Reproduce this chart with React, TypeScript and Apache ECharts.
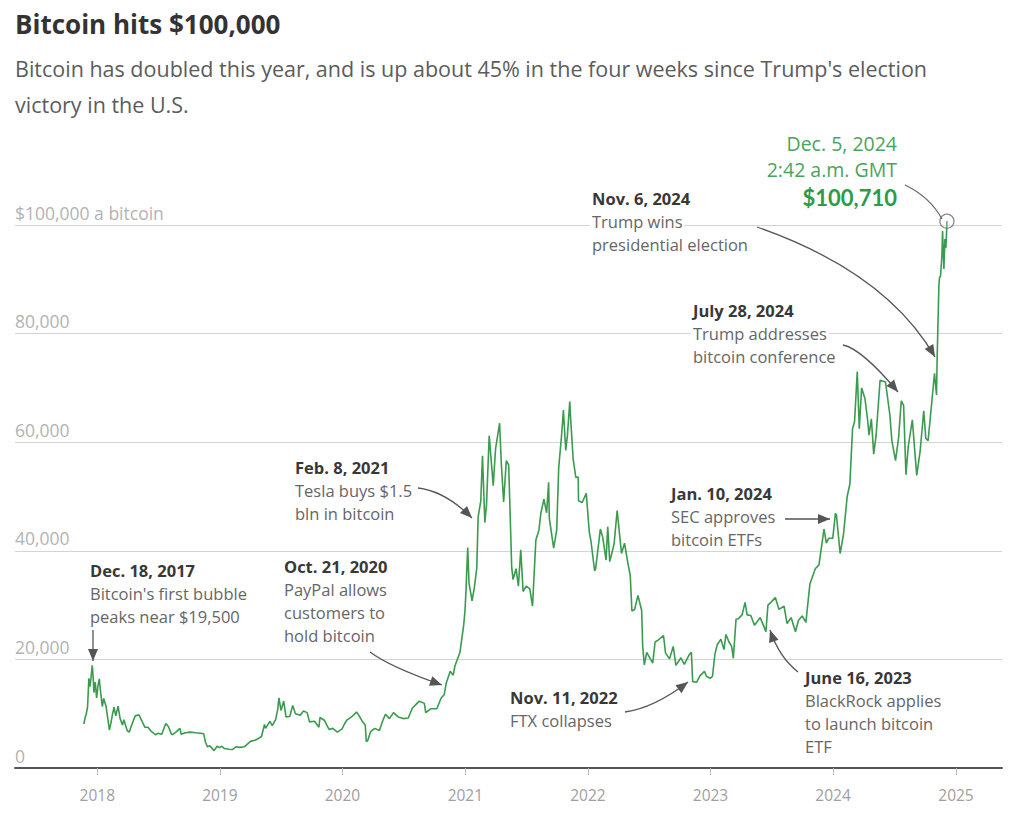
import React, { useEffect, useRef } from 'react';
import * as echarts from 'echarts';

// ---------- DATA (bitcoin price, USD) ----------
const price2017: [string, number][] = [
  ['2017-11-22', 8100], ['2017-11-26', 9300], ['2017-11-29', 9900], ['2017-12-03', 11200],
  ['2017-12-07', 16500], ['2017-12-10', 15000], ['2017-12-13', 16400], ['2017-12-17', 18900],
  ['2017-12-20', 16500], ['2017-12-22', 13900], ['2017-12-26', 15800], ['2017-12-30', 12900],
];
const price2018: [string, number][] = [
  ['2018-01-03', 15100], ['2018-01-07', 16400], ['2018-01-10', 14500], ['2018-01-16', 11300],
  ['2018-01-20', 12800], ['2018-01-27', 11400], ['2018-02-02', 8800], ['2018-02-06', 7000],
  ['2018-02-10', 8100], ['2018-02-16', 10100], ['2018-02-20', 11200], ['2018-02-25', 9600],
  ['2018-03-04', 11400], ['2018-03-10', 9100], ['2018-03-17', 7900], ['2018-03-21', 8900],
  ['2018-03-31', 6900], ['2018-04-06', 6600], ['2018-04-14', 8000], ['2018-04-24', 9600],
  ['2018-05-05', 9800], ['2018-05-15', 8500], ['2018-05-23', 7500], ['2018-06-01', 7500],
  ['2018-06-10', 6800], ['2018-06-24', 6100], ['2018-07-01', 6400], ['2018-07-12', 6200],
  ['2018-07-24', 8200], ['2018-08-01', 7600], ['2018-08-10', 6200], ['2018-08-14', 6200],
  ['2018-08-25', 6700], ['2018-09-04', 7300], ['2018-09-08', 6200], ['2018-09-20', 6500],
  ['2018-10-05', 6600], ['2018-10-20', 6500], ['2018-11-05', 6400], ['2018-11-14', 6300],
  ['2018-11-19', 4800], ['2018-11-25', 3900], ['2018-12-02', 4100], ['2018-12-15', 3200],
  ['2018-12-24', 4000], ['2018-12-31', 3750],
];
const price2019: [string, number][] = [
  ['2019-01-07', 4000], ['2019-01-14', 3600], ['2019-01-28', 3450], ['2019-02-07', 3400],
  ['2019-02-18', 3900], ['2019-03-01', 3800], ['2019-03-15', 3900], ['2019-04-02', 4900],
  ['2019-04-15', 5100], ['2019-04-25', 5400], ['2019-05-05', 5800], ['2019-05-14', 8000],
  ['2019-05-17', 7300], ['2019-05-30', 8600], ['2019-06-06', 7800], ['2019-06-16', 8900],
  ['2019-06-22', 10700], ['2019-06-26', 12900], ['2019-07-02', 10600], ['2019-07-10', 12300],
  ['2019-07-17', 9400], ['2019-07-28', 9500], ['2019-08-06', 11500], ['2019-08-14', 10000],
  ['2019-08-28', 9700], ['2019-09-07', 10500], ['2019-09-18', 10200], ['2019-09-25', 8500],
  ['2019-10-10', 8600], ['2019-10-23', 7500], ['2019-10-26', 9300], ['2019-11-08', 8800],
  ['2019-11-22', 7100], ['2019-12-03', 7300], ['2019-12-17', 6600], ['2019-12-31', 7200],
];
const price2020: [string, number][] = [
  ['2020-01-07', 8100], ['2020-01-14', 8800], ['2020-01-28', 9400], ['2020-02-12', 10300],
  ['2020-02-20', 9600], ['2020-03-01', 8500], ['2020-03-09', 7900], ['2020-03-12', 4900],
  ['2020-03-16', 5000], ['2020-03-25', 6700], ['2020-04-06', 7300], ['2020-04-20', 6900],
  ['2020-04-30', 8700], ['2020-05-08', 9900], ['2020-05-20', 9100], ['2020-06-01', 10200],
  ['2020-06-15', 9400], ['2020-06-30', 9100], ['2020-07-15', 9200], ['2020-07-27', 11000],
  ['2020-08-10', 11900], ['2020-08-17', 12300], ['2020-09-01', 11900], ['2020-09-05', 10200],
  ['2020-09-20', 10900], ['2020-10-08', 10900], ['2020-10-21', 12900], ['2020-10-30', 13500],
  ['2020-11-05', 15600], ['2020-11-17', 17800], ['2020-11-26', 17100], ['2020-12-01', 18800],
  ['2020-12-16', 21300], ['2020-12-27', 26300], ['2020-12-31', 29000],
];
const price2021: [string, number][] = [
  ['2021-01-03', 32800], ['2021-01-08', 40600], ['2021-01-12', 34000], ['2021-01-21', 30800],
  ['2021-01-28', 33300], ['2021-02-04', 36800], ['2021-02-08', 46200], ['2021-02-16', 49200],
  ['2021-02-21', 57500], ['2021-02-28', 45200], ['2021-03-05', 48500], ['2021-03-13', 61200],
  ['2021-03-25', 52000], ['2021-04-01', 58800], ['2021-04-13', 63500], ['2021-04-18', 56200],
  ['2021-04-25', 49000], ['2021-05-03', 56600], ['2021-05-10', 55800], ['2021-05-13', 49700],
  ['2021-05-19', 37000], ['2021-05-23', 34700], ['2021-06-01', 36700], ['2021-06-08', 33500],
  ['2021-06-15', 40200], ['2021-06-22', 32500], ['2021-07-01', 33500], ['2021-07-12', 33000],
  ['2021-07-20', 29800], ['2021-07-30', 42000], ['2021-08-08', 43800], ['2021-08-14', 47000],
  ['2021-08-23', 49500], ['2021-08-31', 47000], ['2021-09-06', 52600], ['2021-09-08', 46000],
  ['2021-09-21', 40500], ['2021-09-30', 43800], ['2021-10-06', 55300], ['2021-10-15', 61600],
  ['2021-10-20', 65900], ['2021-10-27', 58500], ['2021-11-01', 61300], ['2021-11-08', 67500],
  ['2021-11-10', 64900], ['2021-11-18', 56900], ['2021-11-26', 53500], ['2021-12-03', 53600],
  ['2021-12-04', 49200], ['2021-12-15', 48900], ['2021-12-27', 50600],
];
const price2022: [string, number][] = [
  ['2022-01-05', 43500], ['2022-01-10', 41800], ['2022-01-21', 36300], ['2022-01-24', 36700],
  ['2022-02-07', 44000], ['2022-02-14', 42500], ['2022-02-24', 38300], ['2022-03-01', 44400],
  ['2022-03-07', 38000], ['2022-03-20', 41300], ['2022-03-29', 47400], ['2022-04-11', 39500],
  ['2022-04-20', 41400], ['2022-04-30', 37700], ['2022-05-07', 35500], ['2022-05-12', 28900],
  ['2022-05-20', 29200], ['2022-05-30', 31800], ['2022-06-10', 29000], ['2022-06-13', 22500],
  ['2022-06-18', 19000], ['2022-06-25', 21300], ['2022-07-05', 20200], ['2022-07-13', 19300],
  ['2022-07-20', 23200], ['2022-07-30', 23600], ['2022-08-14', 24400], ['2022-08-20', 21200],
  ['2022-09-01', 20100], ['2022-09-12', 22400], ['2022-09-20', 18900], ['2022-10-05', 20300],
  ['2022-10-15', 19100], ['2022-10-29', 20800], ['2022-11-05', 21300], ['2022-11-09', 15900],
  ['2022-11-21', 15800], ['2022-12-01', 17000], ['2022-12-14', 17800], ['2022-12-20', 16900],
  ['2022-12-31', 16500],
];
const price2023: [string, number][] = [
  ['2023-01-07', 16900], ['2023-01-14', 20900], ['2023-01-21', 22700], ['2023-02-01', 23700],
  ['2023-02-10', 21800], ['2023-02-16', 24600], ['2023-02-25', 23200], ['2023-03-05', 22400],
  ['2023-03-10', 20200], ['2023-03-18', 27400], ['2023-03-25', 27500], ['2023-04-05', 28200],
  ['2023-04-14', 30500], ['2023-04-20', 28200], ['2023-05-01', 28100], ['2023-05-12', 26300],
  ['2023-05-29', 27700], ['2023-06-10', 25900], ['2023-06-15', 25100], ['2023-06-21', 30000],
  ['2023-06-30', 30500], ['2023-07-13', 31400], ['2023-07-24', 29200], ['2023-08-08', 29800],
  ['2023-08-17', 26600], ['2023-08-29', 27700], ['2023-09-11', 25100], ['2023-09-20', 27200],
  ['2023-10-01', 28000], ['2023-10-12', 26800], ['2023-10-24', 33900], ['2023-11-09', 36700],
  ['2023-11-20', 37400], ['2023-12-05', 44000], ['2023-12-12', 41400], ['2023-12-19', 42300],
  ['2023-12-31', 42300],
];
const price2024: [string, number][] = [
  ['2024-01-08', 46900], ['2024-01-11', 46600], ['2024-01-22', 39500], ['2024-02-01', 43000],
  ['2024-02-12', 50000], ['2024-02-20', 52300], ['2024-02-28', 62500], ['2024-03-05', 63800],
  ['2024-03-13', 73000], ['2024-03-19', 62500], ['2024-03-26', 70000], ['2024-04-05', 68000],
  ['2024-04-13', 64000], ['2024-04-17', 61300], ['2024-04-24', 64300], ['2024-05-01', 57800],
  ['2024-05-08', 61200], ['2024-05-20', 71400], ['2024-06-05', 71100], ['2024-06-18', 65100],
  ['2024-06-24', 60300], ['2024-07-05', 56600], ['2024-07-14', 60800], ['2024-07-22', 67600],
  ['2024-07-29', 66800], ['2024-08-05', 54000], ['2024-08-12', 59300], ['2024-08-24', 64100],
  ['2024-09-06', 53900], ['2024-09-16', 58200], ['2024-09-27', 65800], ['2024-10-03', 60700],
  ['2024-10-10', 60300], ['2024-10-21', 67400], ['2024-10-29', 72700], ['2024-11-04', 68700],
  ['2024-11-06', 75800], ['2024-11-11', 88700], ['2024-11-13', 90300], ['2024-11-16', 90600],
  ['2024-11-20', 94300], ['2024-11-22', 98900], ['2024-11-26', 91900], ['2024-11-29', 97400],
  ['2024-12-02', 95800], ['2024-12-04', 98800], ['2024-12-05', 100710],
];
const recordPoint: [string, number] = ['2024-12-05', 100710];

const yTicks = [0, 20000, 40000, 60000, 80000, 100000];
const yTickLabels = ['0', '20,000', '40,000', '60,000', '80,000', '$100,000 a bitcoin'];
const xTicks = ['2018-01-01', '2019-01-01', '2020-01-01', '2021-01-01', '2022-01-01', '2023-01-01', '2024-01-01', '2025-01-01'];
const xTickLabels = ['2018', '2019', '2020', '2021', '2022', '2023', '2024', '2025'];
const xRange = ['2017-05-01', '2025-05-18'];

const TITLE = 'Bitcoin hits $100,000';
const SUBTITLE = "Bitcoin has doubled this year, and is up about 45% in the four weeks since Trump's election\nvictory in the U.S.";

const annotations: { x: number; y: number; head: string; body: string[] }[] = [
  { x: 90, y: 570, head: 'Dec. 18, 2017', body: ["Bitcoin's first bubble", 'peaks near $19,500'] },
  { x: 284, y: 566, head: 'Oct. 21, 2020', body: ['PayPal allows', 'customers to', 'hold bitcoin'] },
  { x: 295, y: 467, head: 'Feb. 8, 2021', body: ['Tesla buys $1.5', 'bln in bitcoin'] },
  { x: 510, y: 697, head: 'Nov. 11, 2022', body: ['FTX collapses'] },
  { x: 805, y: 677, head: 'June 16, 2023', body: ['BlackRock applies', 'to launch bitcoin', 'ETF'] },
  { x: 671, y: 493, head: 'Jan. 10, 2024', body: ['SEC approves', 'bitcoin ETFs'] },
  { x: 693, y: 310, head: 'July 28, 2024', body: ['Trump addresses', 'bitcoin conference'] },
  { x: 592, y: 198, head: 'Nov. 6, 2024', body: ['Trump wins', 'presidential election'] },
];
const recordLines = ['Dec. 5, 2024', '2:42 a.m. GMT', '$100,710'];

const arrows: { from: number[]; ctrl: number[]; to: number[] }[] = [
  { from: [93, 630], ctrl: [93, 645], to: [93, 661] },
  { from: [370, 652], ctrl: [390, 667], to: [442, 685] },
  { from: [418, 488], ctrl: [445, 491], to: [472, 518] },
  { from: [625, 712], ctrl: [654, 708], to: [688, 682] },
  { from: [798, 672], ctrl: [779, 657], to: [770, 630] },
  { from: [785, 519], ctrl: [808, 519], to: [830, 519] },
  { from: [843, 345], ctrl: [862, 349], to: [898, 392] },
  { from: [757, 227], ctrl: [886, 272], to: [935, 357] },
];

const FONT = '"Open Sans", Lato, sans-serif';
const NUMFONT = 'Lato, "Open Sans", sans-serif';
const GREEN = '#3a9b4f';

const toTime = (d: string) => Date.parse(d + 'T00:00:00Z');

function buildGraphics() {
  const els: any[] = [];
  annotations.forEach((a) => {
    els.push({
      type: 'text', x: a.x, y: a.y, z: 50,
      style: { text: a.head, font: `bold 16.5px ${FONT}`, fill: '#383838', verticalAlign: 'middle', align: 'left' },
    });
    a.body.forEach((line, i) => {
      els.push({
        type: 'text', x: a.x - 2, y: a.y + 23 * (i + 1), z: 50,
        style: {
          text: line, font: `16.5px ${FONT}`, fill: '#666', verticalAlign: 'middle', align: 'left',
          backgroundColor: '#fff', padding: [0, 2],
        },
      });
    });
  });
  arrows.forEach((ar) => {
    els.push({
      type: 'bezierCurve', z: 50,
      shape: { x1: ar.from[0], y1: ar.from[1], cpx1: ar.ctrl[0], cpy1: ar.ctrl[1], x2: ar.to[0], y2: ar.to[1] },
      style: { stroke: '#555', lineWidth: 1.3, fill: null },
    });
    const dx = ar.to[0] - ar.ctrl[0];
    const dy = ar.to[1] - ar.ctrl[1];
    const len = Math.sqrt(dx * dx + dy * dy) || 1;
    const ux = dx / len, uy = dy / len;
    const bx = ar.to[0] - ux * 12, by = ar.to[1] - uy * 12;
    const px = -uy * 5, py = ux * 5;
    els.push({
      type: 'polygon', z: 51,
      shape: { points: [[ar.to[0], ar.to[1]], [bx + px, by + py], [bx - px, by - py]] },
      style: { fill: '#555' },
    });
  });
  const ry = [143, 169, 197];
  recordLines.forEach((t, i) => {
    els.push({
      type: 'text', x: 897, y: ry[i], z: 50,
      style: {
        text: t, font: i === 2 ? `bold 22px ${NUMFONT}` : `19.5px ${FONT}`,
        fill: i === 2 ? '#2f9a48' : '#4aa45e', verticalAlign: 'middle', align: 'right',
      },
    });
  });
  els.push({
    type: 'bezierCurve', z: 50,
    shape: { x1: 905, y1: 185, cpx1: 930, cpy1: 197, x2: 942, y2: 219 },
    style: { stroke: '#666', lineWidth: 1.2, fill: null },
  });
  return els;
}

export default function App() {
  const ref = useRef<HTMLDivElement>(null);
  useEffect(() => {
    if (!ref.current) return;
    const chart = echarts.init(ref.current, undefined, { renderer: 'svg' });
    const all = [...price2017, ...price2018, ...price2019, ...price2020, ...price2021, ...price2022, ...price2023, ...price2024];
    const seriesData = all.map(([d, v]) => [toTime(d), v]);
    const tickTimes = xTicks.map(toTime);
    chart.setOption({
      animation: false,
      backgroundColor: '#fff',
      title: {
        text: TITLE,
        subtext: SUBTITLE,
        left: 15, top: 8, padding: 0, itemGap: 10,
        textStyle: { fontFamily: FONT, fontWeight: 'bold', fontSize: 26, color: '#333', lineHeight: 32 },
        subtextStyle: { fontFamily: FONT, fontSize: 21.5, color: '#5c5c5c', lineHeight: 36 },
      },
      grid: { left: 15, right: 22, top: 225, bottom: 62, containLabel: false },
      xAxis: {
        type: 'value',
        min: toTime(xRange[0]),
        max: toTime(xRange[1]),
        axisLine: { show: true, lineStyle: { color: '#555', width: 2 } },
        axisTick: { show: true, length: 7, customValues: tickTimes, lineStyle: { color: '#bbb', width: 1 } },
        axisLabel: {
          customValues: tickTimes,
          margin: 19,
          color: '#a0a0a0', fontSize: 15.5, fontFamily: FONT,
          formatter: (v: number) => { const i = tickTimes.indexOf(v); return i >= 0 ? xTickLabels[i] : ''; },
        },
        splitLine: { show: false },
      },
      yAxis: {
        type: 'value',
        min: 0, max: 100000, interval: 20000,
        axisLine: { show: false },
        axisTick: { show: false },
        axisLabel: {
          inside: true, margin: 0, align: 'left', verticalAlign: 'bottom', lineHeight: 25,
          color: '#b3b3b3', fontSize: 17.5, fontFamily: FONT,
          formatter: (v: number) => { const i = yTicks.indexOf(v); return i >= 0 ? yTickLabels[i] : ''; },
        },
        splitLine: { show: true, lineStyle: { color: '#d4d4d4', width: 1.2 } },
      },
      series: [
        {
          type: 'line', data: seriesData, showSymbol: false, symbol: 'none', clip: false,
          lineStyle: { color: GREEN, width: 1.6 }, z: 3,
        },
        {
          type: 'scatter', data: [[toTime(recordPoint[0]), recordPoint[1]]], symbol: 'circle', symbolSize: 14, clip: false, z: 4,
          itemStyle: { color: 'rgba(255,255,255,0.25)', borderColor: '#6b6b6b', borderWidth: 1.3 },
        },
      ],
      graphic: buildGraphics(),
    });
    return () => chart.dispose();
  }, []);
  return <div ref={ref} style={{ position: 'fixed', left: 0, top: 0, width: 1024, height: 830 }} />;
}
